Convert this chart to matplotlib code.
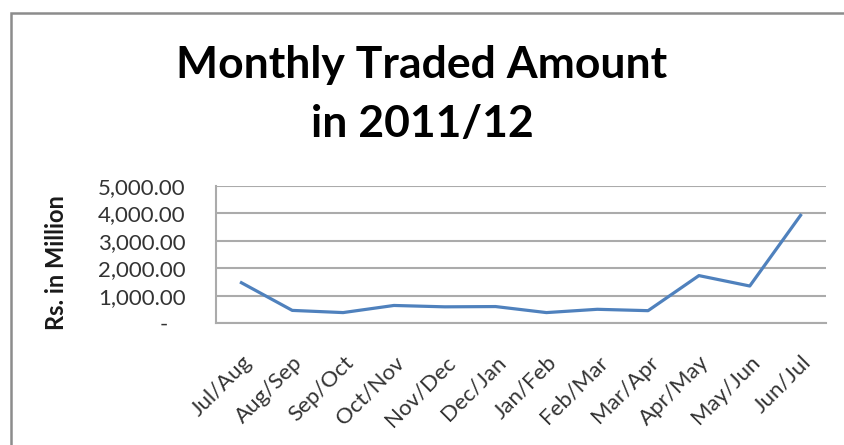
import matplotlib
matplotlib.use('Agg')
import matplotlib.pyplot as plt
from matplotlib.patches import Rectangle
from matplotlib.ticker import FixedLocator

# monthly traded amount, Rs. in million
periods = ['Jul/Aug', 'Aug/Sep', 'Sep/Oct', 'Oct/Nov', 'Nov/Dec', 'Dec/Jan',
           'Jan/Feb', 'Feb/Mar', 'Mar/Apr', 'Apr/May', 'May/Jun', 'Jun/Jul']
amount = [1470, 460, 380, 640, 590, 600, 380, 500, 450, 1730, 1350, 3930]

y_ticks = [0, 1000, 2000, 3000, 4000, 5000]
y_labels = ['-   ', '1,000.00', '2,000.00', '3,000.00', '4,000.00', '5,000.00']

plt.rcParams['font.family'] = ['Lato', 'DejaVu Sans']

W, H = 844, 445
fig = plt.figure(figsize=(W / 100, H / 100), dpi=100)
fig.patch.set_facecolor('white')

# outer chart border (runs off the right and bottom edges)
fig.patches.append(Rectangle((11 / W, -0.05), 1.0, 1 - 13 / H + 0.05,
                             transform=fig.transFigure, fill=False,
                             edgecolor='#8c8c8c', linewidth=1.8))

ax = fig.add_axes([216 / W, 1 - 323 / H, (826 - 216) / W, (323 - 186) / H])

x = list(range(len(periods)))
ax.plot(x, amount, color='#4F81BD', linewidth=2.3, solid_joinstyle='round', zorder=3)

ax.set_xlim(-0.5, len(periods) - 0.5)
ax.set_ylim(0, 5000)
ax.yaxis.set_major_locator(FixedLocator(y_ticks))
ax.set_yticklabels(y_labels)
ax.set_xticks(x)
ax.set_xticklabels(periods, rotation=45, ha='right', va='top', rotation_mode='anchor')

ax.grid(axis='y', color='#ababab', linewidth=1.5)
ax.set_axisbelow(True)
for side in ['top', 'right']:
    ax.spines[side].set_visible(False)
for side in ['left', 'bottom']:
    ax.spines[side].set_color('#ababab')
    ax.spines[side].set_linewidth(1.5)

ax.tick_params(axis='y', length=0, pad=22, labelsize=16, labelcolor='#333333')
ax.tick_params(axis='x', length=0, pad=21, labelsize=16, labelcolor='#333333')

fig.text(56 / W, 1 - 263 / H, 'Rs. in Million', rotation=90, ha='center', va='center',
         fontsize=17, fontweight='bold', color='#1a1a1a')

# two-line title
fig.text(0.5, 1 - 78 / H, 'Monthly Traded Amount', ha='center', va='baseline',
         fontsize=32, fontweight='bold')
fig.text(0.5, 1 - 137 / H, 'in 2011/12', ha='center', va='baseline',
         fontsize=32, fontweight='bold')

fig.savefig('out.png', dpi=100, facecolor='white')
